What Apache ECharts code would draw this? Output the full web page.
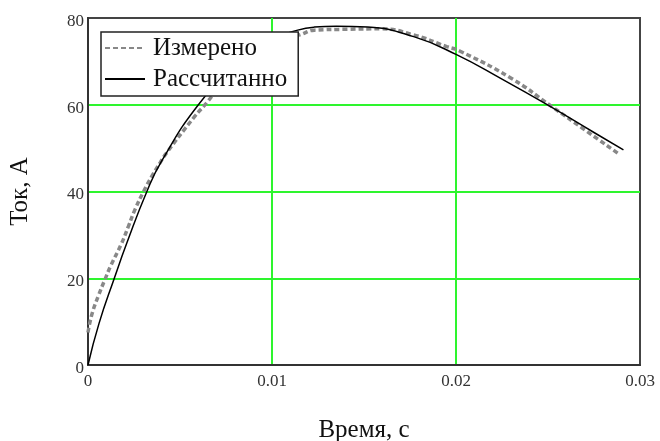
<!DOCTYPE html>
<html>
<head>
<meta charset="utf-8">
<script src="https://cdn.jsdelivr.net/npm/echarts@6/dist/echarts.min.js"></script>
<style>
  html, body { margin: 0; padding: 0; background: #fff; }
  #chart { width: 660px; height: 441px; }
</style>
</head>
<body>
<div id="chart"></div>
<script>
// Measured current (s, A)
const measuredT = [0, 0.00022, 0.00058, 0.00089, 0.00125, 0.0018, 0.0022, 0.00257, 0.00302, 0.00348, 0.00393, 0.0042, 0.0058, 0.0064, 0.008, 0.010, 0.0115, 0.0123, 0.0141, 0.0159, 0.0177, 0.0195, 0.0202, 0.0230, 0.0252, 0.0270, 0.0288];
const measuredI = [7.5, 11.8, 16.1, 19.4, 23, 27.8, 32, 36, 40, 43.6, 46.7, 48.5, 57.3, 60.2, 68.5, 74.5, 76.1, 77.2, 77.4, 77.5, 76.1, 73.4, 72.4, 66.1, 59.6, 54.2, 48.8];

// Calculated current (s, A)
const calcT = [0, 0.0006, 0.00143, 0.0021, 0.0032, 0.0040, 0.0060, 0.0080, 0.0100, 0.0114, 0.0123, 0.0135, 0.0152, 0.0177, 0.0200, 0.0225, 0.0250, 0.0275, 0.0291];
const calcI = [0, 9.6, 20, 28, 40, 47, 60, 69, 75, 77.2, 77.9, 78.1, 77.9, 75.7, 71.6, 65.9, 59.9, 53.6, 49.6];

const seriesNames = ['Измерено', 'Рассчитанно'];
const xTitle = 'Время, с';
const yTitle = 'Ток, А';

const pairs = (xs, ys) => xs.map((x, i) => [x, ys[i]]);

const serif = '"Liberation Serif", "DejaVu Serif", serif';

const chart = echarts.init(document.getElementById('chart'), null, { renderer: 'canvas' });
chart.setOption({
  animation: false,
  backgroundColor: '#fff',
  grid: {
    left: 88, top: 18, right: 20, bottom: 76,
    outerBoundsMode: 'none', containLabel: false,
    show: true, borderColor: '#444', borderWidth: 2, backgroundColor: 'transparent'
  },
  legend: {
    left: 101, top: 32,
    orient: 'vertical',
    data: seriesNames,
    backgroundColor: '#fff',
    borderColor: '#222',
    borderWidth: 1.5,
    borderRadius: 0,
    padding: [3, 11, 4, 3],
    itemGap: 5,
    itemWidth: 40,
    itemHeight: 14,
    itemStyle: { color: 'rgba(0,0,0,0)', borderWidth: 0 },
    textStyle: { fontFamily: serif, fontSize: 25, color: '#111', lineHeight: 26, padding: [0, 0, 0, 3] }
  },
  xAxis: {
    type: 'value', min: 0, max: 0.03, interval: 0.01,
    name: xTitle, nameLocation: 'middle', nameGap: 53,
    nameTextStyle: { fontFamily: serif, fontSize: 25, color: '#111' },
    axisLine: { show: true, lineStyle: { color: '#333', width: 2 } },
    axisTick: { show: false },
    axisLabel: { fontFamily: serif, fontSize: 17, color: '#333', margin: 8 },
    splitLine: { show: true, showMinLine: false, showMaxLine: false, lineStyle: { color: '#2ef52e', width: 2 } }
  },
  yAxis: {
    type: 'value', min: 0, max: 80, interval: 20,
    name: yTitle, nameLocation: 'middle', nameGap: 55, nameRotate: 90,
    nameTextStyle: { fontFamily: serif, fontSize: 25, color: '#111' },
    axisLine: { show: true, lineStyle: { color: '#333', width: 2 } },
    axisTick: { show: false },
    axisLabel: {
      fontFamily: serif, fontSize: 17, color: '#333', margin: 4,
      formatter: '{v|{value}}',
      rich: { v: { fontFamily: serif, fontSize: 17, color: '#333', padding: [7, 0, 0, 0] } }
    },
    splitLine: { show: true, showMinLine: false, showMaxLine: false, lineStyle: { color: '#2ef52e', width: 2 } }
  },
  series: [
    {
      name: seriesNames[0], type: 'line', data: pairs(measuredT, measuredI),
      smooth: 0.5, showSymbol: false, symbol: 'none',
      lineStyle: { color: '#888', width: 3.5, type: [5, 3] },
      itemStyle: { color: '#888' },
      z: 2
    },
    {
      name: seriesNames[1], type: 'line', data: pairs(calcT, calcI),
      smooth: 0.5, showSymbol: false, symbol: 'none',
      lineStyle: { color: '#000', width: 1.5 },
      itemStyle: { color: '#000' },
      z: 3
    }
  ]
});
</script>
</body>
</html>
